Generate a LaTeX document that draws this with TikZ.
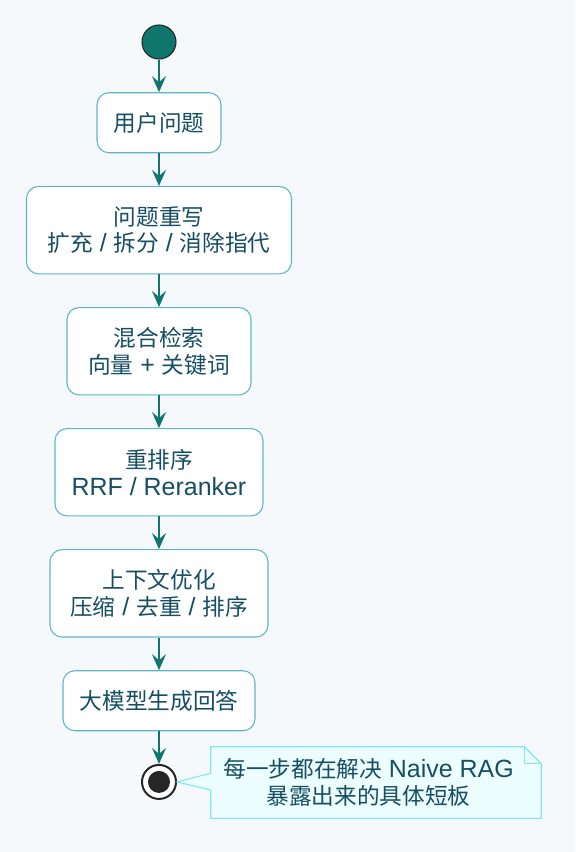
\documentclass[tikz,border=0pt]{standalone}
\usepackage{fontspec}
\setmainfont{Noto Sans CJK SC}
\newfontfamily\lat[Scale=1.1]{Liberation Sans}
\usetikzlibrary{arrows.meta}
\usetikzlibrary{positioning}
\definecolor{bgc}{HTML}{F5F9FC}
\definecolor{flowc}{HTML}{0F766E}
\definecolor{edgec}{HTML}{5FB4C8}
\definecolor{txtc}{HTML}{164E63}
\definecolor{notefill}{HTML}{ECFEFF}
\definecolor{noteedge}{HTML}{7FE6F4}

\begin{document}
\begin{tikzpicture}[
node distance=24.5pt,
act/.style={rectangle, rounded corners=9pt, draw=edgec, line width=0.8pt, fill=white,
  text=txtc, align=center, inner xsep=12.5pt, minimum height=45pt,
  font=\fontsize{17pt}{20pt}\selectfont},
tall/.style={minimum height=65.5pt},
flow/.style={draw=flowc, line width=1.5pt, -{Stealth[length=12pt,width=10.5pt,inset=4.5pt]}},
start/.style={circle, draw=black!85, line width=0.8pt, fill=flowc, minimum size=25.5pt, inner sep=0pt},
stop/.style={circle, draw=black!85, line width=1.5pt, fill=white, minimum size=25.5pt, inner sep=0pt,
  path picture={\fill[black!85] (path picture bounding box.center) circle (8.25pt);}},
notetext/.style={text=txtc, align=center, inner sep=0pt, font=\fontsize{17pt}{20pt}\selectfont}
]
\path[fill=bgc, use as bounding box] (0,0) rectangle (431.25pt,-639pt);

\node[start] (s) at (119.25pt,-31.5pt) {};
\node[act] (q) [below=of s] {用户问题};
\node[act,tall,minimum width=198.75pt] (rw) [below=of q] {问题重写\\扩充{\lat{} / }拆分{\lat{} / }消除指代};
\node[act,tall,minimum width=138pt] (hy) [below=of rw] {混合检索\\向量{\lat{} + }关键词};
\node[act,tall,minimum width=156pt] (rr) [below=of hy] {重排序\\{\lat RRF / Reranker}};
\node[act,tall,minimum width=163.5pt] (ctx) [below=of rr] {上下文优化\\压缩{\lat{} / }去重{\lat{} / }排序};
\node[act] (gen) [below=of ctx] {大模型生成回答};
\node[stop] (e) [below=of gen] {};

\draw[flow] (s) -- (q);
\draw[flow] (q) -- (rw);
\draw[flow] (rw) -- (hy);
\draw[flow] (hy) -- (rr);
\draw[flow] (rr) -- (ctx);
\draw[flow] (ctx) -- (gen);
\draw[flow] (gen) -- (e);

\node[minimum width=247.5pt, minimum height=53.25pt, inner sep=0pt] (n) at (282pt,-586.9pt) {};
\filldraw[fill=notefill, draw=noteedge, line width=0.8pt]
  (n.north west) -- ([xshift=-12.75pt]n.north east) -- ([yshift=-12.75pt]n.north east)
  -- (n.south east) -- (n.south west) -- ([yshift=-5.6pt]n.west) -- (e.east)
  -- ([yshift=7pt]n.west) -- cycle;
\draw[draw=noteedge, line width=0.8pt] ([xshift=-12.75pt]n.north east) |- ([yshift=-12.75pt]n.north east);
\node[notetext] (nt) at ([xshift=-5.6pt]n.center) {每一步都在解决{\lat{} Naive RAG}\\暴露出来的具体短板};
\end{tikzpicture}
\end{document}
